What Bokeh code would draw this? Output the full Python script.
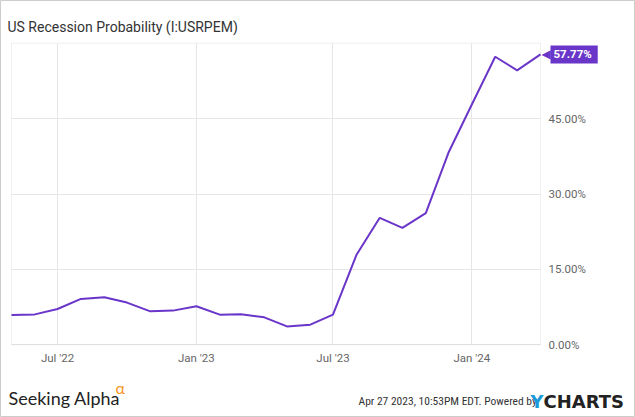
import datetime as dt
from bokeh.plotting import figure
from bokeh.models import (Range1d, LinearAxis, DatetimeAxis, FixedTicker, Label,
                          ColumnDataSource, BoxAnnotation)
from bokeh.embed import file_html
from bokeh.resources import INLINE

title_text = "US Recession Probability (I:USRPEM)"
months = ["2022-05-01", "2022-06-01", "2022-07-01", "2022-08-01", "2022-09-01", "2022-10-01",
          "2022-11-01", "2022-12-01", "2023-01-01", "2023-02-01", "2023-03-01", "2023-04-01",
          "2023-05-01", "2023-06-01", "2023-07-01", "2023-08-01", "2023-09-01", "2023-10-01",
          "2023-11-01", "2023-12-01", "2024-01-01", "2024-02-01", "2024-03-01", "2024-04-01"]
probs = [5.93, 6.05, 7.13, 9.13, 9.47, 8.40, 6.66, 6.80, 7.66, 6.00, 6.06, 5.46,
         3.66, 4.00, 6.00, 17.86, 25.26, 23.26, 26.20, 38.20, 47.80, 57.30, 54.60, 57.77]
x_ticks = ["2022-07-01", "2023-01-01", "2023-07-01", "2024-01-01"]
x_tick_labels = ["Jul '22", "Jan '23", "Jul '23", "Jan '24"]
y_ticks = [0, 15, 30, 45]
y_tick_labels = ["0.00%", "15.00%", "30.00%", "45.00%"]
last_label = "57.77%"
footer_left = "Seeking Alpha"
footer_alpha = "\u03b1"
footer_date = "Apr 27 2023, 10:53PM EDT.  Powered by"
footer_y = "Y"
footer_charts = "CHARTS"
y_max = 60.0

# layout (pixels)
W, H = 635, 417
PLOT_L, PLOT_R, PLOT_T, PLOT_B = 11, 540, 42.7, 344.3

PURPLE = "#6a35c9"
GRID = "#e6e6e6"
FRAME = "#cccccc"
TICK_TXT = "#666666"


def to_ms(s):
    d = dt.datetime.strptime(s, "%Y-%m-%d")
    return (d - dt.datetime(1970, 1, 1)).total_seconds() * 1000.0


xs = [to_ms(m) for m in months]
src = ColumnDataSource(dict(x=xs, y=probs))

# ranges so that the data box occupies the plot rectangle and the frame fills the canvas
dx = (xs[-1] - xs[0]) / (PLOT_R - PLOT_L)
dy = y_max / (PLOT_B - PLOT_T)
x_range = Range1d(xs[0] - PLOT_L * dx, xs[0] + (W - PLOT_L) * dx)
y_range = Range1d(-(H - PLOT_B) * dy, y_max + PLOT_T * dy)

p = figure(width=W, height=H, output_backend="svg", toolbar_location=None,
           x_axis_location=None, y_axis_location=None,
           x_range=x_range, y_range=y_range, min_border=0)
p.background_fill_color = "white"
p.border_fill_color = "white"
p.outline_line_color = FRAME
p.outline_line_width = 1

tick_ms = [to_ms(t) for t in x_ticks]

# grids limited to the plot box
p.xgrid.ticker = FixedTicker(ticks=tick_ms)
p.xgrid.grid_line_color = GRID
p.xgrid.cross_bounds = (0, y_max)
p.ygrid.ticker = FixedTicker(ticks=y_ticks)
p.ygrid.grid_line_color = GRID
p.ygrid.cross_bounds = (xs[0], xs[-1])

# plot box
p.add_layout(BoxAnnotation(left=xs[0], right=xs[-1], bottom=0, top=y_max,
                           fill_alpha=0, line_color=FRAME, line_width=1, level="underlay"))

p.line("x", "y", source=src, line_color=PURPLE, line_width=2)

# x axis fixed at y=0
xa = DatetimeAxis(fixed_location=0, ticker=FixedTicker(ticks=tick_ms))
xa.major_label_overrides = {t: l for t, l in zip(tick_ms, x_tick_labels)}
xa.axis_line_color = None
xa.major_tick_line_color = None
xa.minor_tick_line_color = None
xa.major_tick_out = 0
xa.major_tick_in = 0
xa.major_label_standoff = 6
xa.major_label_text_font = "Roboto"
xa.major_label_text_font_size = "11.5px"
xa.major_label_text_color = TICK_TXT
p.add_layout(xa, "below")

# y axis fixed at the right edge of the plot box
ya = LinearAxis(fixed_location=xs[-1], ticker=FixedTicker(ticks=y_ticks))
ya.major_label_overrides = {t: l for t, l in zip(y_ticks, y_tick_labels)}
ya.axis_line_color = None
ya.major_tick_line_color = None
ya.minor_tick_line_color = None
ya.major_tick_out = 0
ya.major_tick_in = 0
ya.major_label_standoff = 8
ya.major_label_text_font = "Roboto"
ya.major_label_text_font_size = "11.5px"
ya.major_label_text_color = TICK_TXT
p.add_layout(ya, "right")

# last value tag
p.add_layout(Label(x=xs[-1], y=probs[-1], x_offset=1, text="\u25c0",
                   text_align="left", text_baseline="middle",
                   text_font="DejaVu Sans", text_font_size="12px", text_color=PURPLE))
p.add_layout(Label(x=xs[-1], y=probs[-1], x_offset=10, text=last_label,
                   text_align="left", text_baseline="middle",
                   text_font="Roboto", text_font_size="11.5px", text_font_style="bold",
                   text_color="white", background_fill_color=PURPLE,
                   padding=dict(left=3, right=6, top=2, bottom=2)))

# title and footer (screen units: from the canvas bottom-left)
p.add_layout(Label(x=7, y=H - 26, x_units="screen", y_units="screen", text=title_text,
                   text_font="Roboto", text_font_size="14px", text_color="#333333",
                   text_baseline="alphabetic"))
p.add_layout(Label(x=8, y=H - 397, x_units="screen", y_units="screen", text=footer_left,
                   text_font="Lato", text_font_size="18px", text_color="#222222",
                   text_baseline="alphabetic"))
p.add_layout(Label(x=115, y=H - 387, x_units="screen", y_units="screen", text=footer_alpha,
                   text_font="Lato", text_font_size="16px", text_color="#f7941d",
                   text_baseline="alphabetic"))
p.add_layout(Label(x=358, y=H - 400, x_units="screen", y_units="screen", text=footer_date,
                   text_font="'Liberation Sans Narrow', 'Roboto Condensed', Roboto",
                   text_font_size="11.5px", text_color="#333333", text_baseline="alphabetic"))
p.add_layout(Label(x=530, y=H - 401, x_units="screen", y_units="screen", text=footer_y,
                   text_font="DejaVu Sans", text_font_size="18px", text_font_style="bold",
                   text_color="#1a9ad9", text_baseline="alphabetic"))
p.add_layout(Label(x=543, y=H - 401, x_units="screen", y_units="screen", text=footer_charts,
                   text_font="DejaVu Sans", text_font_size="18px", text_font_style="bold",
                   text_color="#222222", text_baseline="alphabetic"))

open("out.html", "w").write(file_html(p, INLINE))
